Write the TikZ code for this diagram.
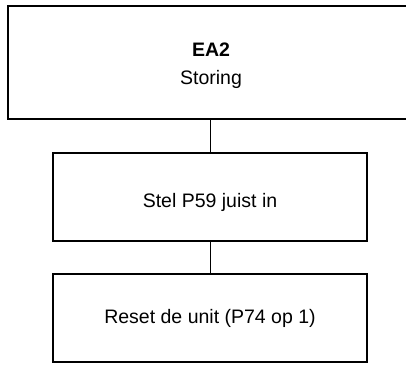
\documentclass[tikz,border=0pt]{standalone}
\usepackage{fontspec}
\setmainfont{Liberation Sans}
\begin{document}
\begin{tikzpicture}[x=1pt,y=1pt,
  box/.style={draw=black, line width=1.4pt, fill=white, inner sep=0pt, outer sep=0pt},
  conn/.style={draw=black, line width=1pt},
  txt/.style={font=\fontsize{19.5}{23}\selectfont, inner sep=0pt, anchor=base}]
\useasboundingbox (0,0) rectangle (406,365);
\clip (0,0) rectangle (406,365);
\node[box, minimum width=406pt, minimum height=113pt] (top) at (211,302.5) {};
\node[box, minimum width=314pt, minimum height=88pt] (mid) at (210,168) {};
\node[box, minimum width=314pt, minimum height=88pt] (low) at (210,47) {};
\node[txt, font=\fontsize{19.5}{23}\selectfont\bfseries] (t1) at (211,308.3) {EA2};
\node[txt] (t2) at (211,281) {Storing};
\node[txt] (t3) at (210,157.7) {Stel P59 juist in};
\node[txt] (t4) at (210,41.7) {Reset de unit (P74 op 1)};
\draw[conn] (mid.north |- top.south) -- (mid.north);
\draw[conn] (mid.south) -- (low.north);
\end{tikzpicture}
\end{document}
